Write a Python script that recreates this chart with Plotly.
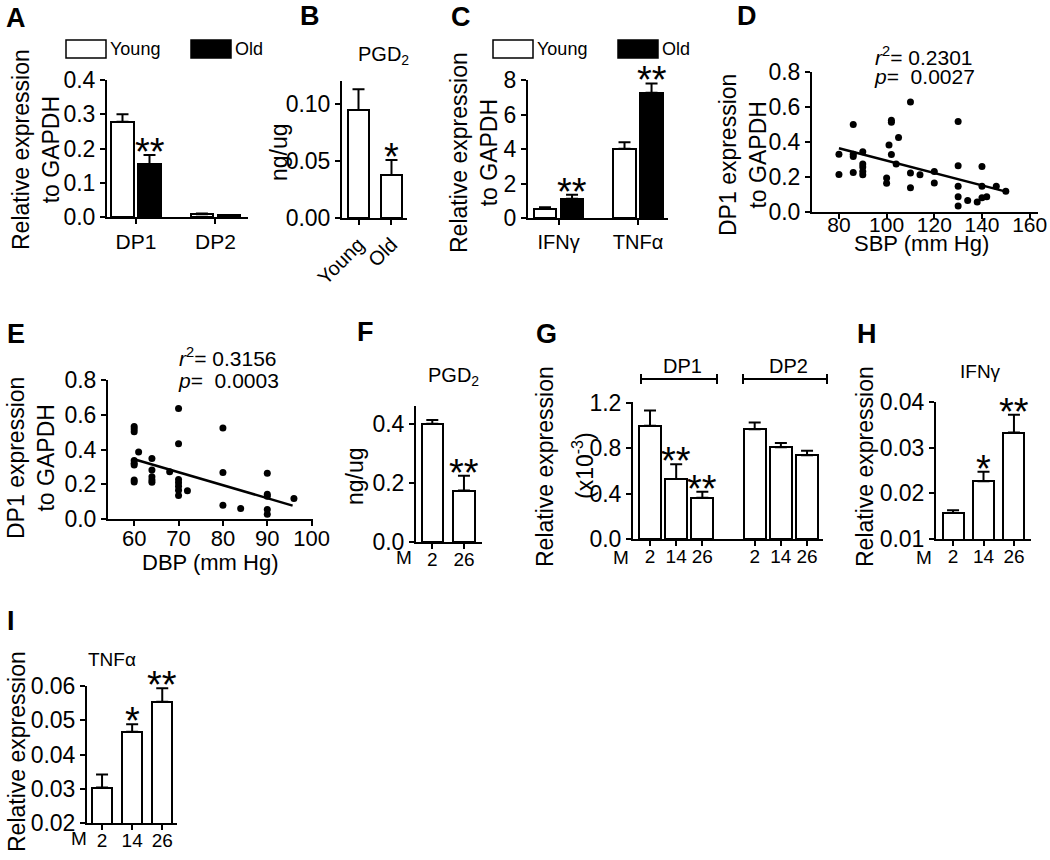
import plotly.graph_objects as go

W, H = 1050, 860
FONT = "Liberation Sans, Arial, sans-serif"

# ---------------- data ----------------
A_genes = ["DP1", "DP2"]
A_young = [0.278, 0.008]
A_young_err = [0.022, 0.002]
A_old = [0.155, 0.005]
A_old_err = [0.026, 0.001]
A_old_sig = ["**", ""]

B_groups = ["Young", "Old"]
B_pgd2 = [0.0947, 0.0377]
B_err = [0.018, 0.013]
B_sig = ["", "*"]

C_genes = ["IFNγ", "TNFα"]
C_young = [0.52, 4.01]
C_young_err = [0.1, 0.38]
C_old = [1.12, 7.26]
C_old_err = [0.23, 0.54]
C_old_sig = ["**", "**"]

D_sbp = [80, 80, 86, 86, 86, 86, 90, 90, 90, 90, 90, 100, 100, 101, 102, 102, 102,
         104, 105, 110, 110, 110, 114, 120, 120, 130, 130, 130, 130, 130, 134, 138,
         140, 140, 140, 142, 146, 150]
D_dp1 = [0.33, 0.215, 0.50, 0.33, 0.317, 0.226, 0.345, 0.275, 0.257, 0.232, 0.213,
         0.194, 0.165, 0.383, 0.525, 0.513, 0.328, 0.274, 0.426, 0.628, 0.223, 0.138,
         0.213, 0.232, 0.166, 0.517, 0.264, 0.147, 0.087, 0.034, 0.066, 0.057, 0.26,
         0.147, 0.081, 0.087, 0.147, 0.119]
D_fit_x = [80, 150.5]
D_fit_y = [0.364, 0.115]
D_r2 = "0.2301"
D_p = "0.0027"

E_dbp = [60, 60, 60, 60, 60, 60, 60, 60, 61, 64, 64, 64, 64, 64, 68, 70, 70, 70, 70,
         70, 70, 70, 72, 80, 80, 80, 84, 90, 90, 90, 90, 90, 96]
E_dp1 = [0.533, 0.518, 0.502, 0.336, 0.321, 0.311, 0.224, 0.213, 0.385, 0.348, 0.282,
         0.243, 0.224, 0.211, 0.272, 0.636, 0.433, 0.228, 0.209, 0.189, 0.166, 0.135,
         0.162, 0.524, 0.267, 0.079, 0.06, 0.263, 0.143, 0.131, 0.054, 0.027, 0.118]
E_fit_x = [60, 95.7]
E_fit_y = [0.344, 0.077]
E_r2 = "0.3156"
E_p = "0.0003"

F_months = ["2", "26"]
F_pgd2 = [0.40, 0.174]
F_err = [0.013, 0.05]
F_sig = ["", "**"]

G_months = ["2", "14", "26"]
G_dp1 = [1.0, 0.53, 0.365]
G_dp1_err = [0.135, 0.13, 0.053]
G_dp1_sig = ["", "**", "**"]
G_dp2 = [0.97, 0.81, 0.74]
G_dp2_err = [0.06, 0.037, 0.04]
G_dp2_sig = ["", "", ""]

H_months = ["2", "14", "26"]
H_ifng = [0.01567, 0.02264, 0.03331]
H_err = [0.0006, 0.0021, 0.0039]
H_sig = ["", "*", "**"]

I_months = ["2", "14", "26"]
I_tnfa = [0.03034, 0.04663, 0.05541]
I_err = [0.0038, 0.0022, 0.0039]
I_sig = ["", "*", "**"]

# ---------------- helpers ----------------
def xp(x):
    return x / W

def yp(y):
    return 1 - y / H

fig = go.Figure()
layout = dict(template="none", width=W, height=H,
              margin=dict(l=0, r=0, t=0, b=0, pad=0, autoexpand=False),
              paper_bgcolor="white", plot_bgcolor="white", showlegend=False,
              font=dict(family=FONT, color="black"), bargap=0)
annotations = []
shapes = []


def ann(x, y, text, size=22, angle=0, xanchor="center", yanchor="middle", bold=False):
    if bold:
        text = "<b>" + text + "</b>"
    annotations.append(dict(x=xp(x), y=yp(y), xref="paper", yref="paper", text=text,
                            showarrow=False, textangle=angle, xanchor=xanchor,
                            yanchor=yanchor, font=dict(size=size, color="black", family=FONT)))


def axis_names(i):
    return ("xaxis" if i == 1 else f"xaxis{i}", "yaxis" if i == 1 else f"yaxis{i}",
            "x" if i == 1 else f"x{i}", "y" if i == 1 else f"y{i}")


def make_axes(i, xpix, ypix, xr, yr, ytickvals, yfmt, xtickvals, xticktext, xfont=20,
              yfont=23, xangle=0, xstand=0):
    xa, ya, xr_, yr_ = axis_names(i)
    common = dict(showline=True, linecolor="black", linewidth=2, ticks="outside",
                  ticklen=5, tickwidth=2, tickcolor="black", showgrid=False,
                  zeroline=False, fixedrange=True, automargin=False)
    layout[xa] = dict(domain=[xp(xpix[0]), xp(xpix[1])], range=list(xr), anchor=yr_,
                      tickvals=xtickvals, ticktext=xticktext, tickangle=xangle,
                      ticklabelstandoff=xstand,
                      tickfont=dict(size=xfont, color="black", family=FONT), **common)
    layout[ya] = dict(domain=[yp(ypix[1]), yp(ypix[0])], range=list(yr), anchor=xr_,
                      tickvals=ytickvals, tickformat=yfmt,
                      tickfont=dict(size=yfont, color="black", family=FONT), **common)
    return xr_, yr_


def add_bars(i, pos, vals, errs, width, color="white", sig=None):
    _, _, xr_, yr_ = axis_names(i)
    fig.add_trace(go.Bar(
        x=pos, y=vals, width=width, xaxis=xr_, yaxis=yr_,
        marker=dict(color=color, line=dict(color="black", width=2)),
        error_y=dict(type="data", array=errs, arrayminus=[0] * len(errs), symmetric=False,
                     color="black", thickness=2, width=6)))
    if sig:
        for p, v, e, s in zip(pos, vals, errs, sig):
            if s:
                annotations.append(dict(x=p, y=v + e, xref=xr_, yref=yr_, text=s,
                                        showarrow=False, yanchor="middle", yshift=3,
                                        font=dict(size=38, color="black", family=FONT)))


# ---------------- Panel A ----------------
make_axes(1, (107, 248), (80, 217), (-0.365, 1.41), (0, 0.4),
          [0, 0.1, 0.2, 0.3, 0.4], ".1f", [0, 1], A_genes, xfont=21)
posA = list(range(len(A_genes)))
add_bars(1, [p - 0.17 for p in posA], A_young, A_young_err, 0.28)
add_bars(1, [p + 0.17 for p in posA], A_old, A_old_err, 0.28, color="black", sig=A_old_sig)

# ---------------- Panel B ----------------
make_axes(2, (342, 407), (81, 218), (-0.5, 1.47), (0, 0.12),
          [0, 0.05, 0.10], ".2f", [0, 1], B_groups, xfont=20, xangle=-45)
add_bars(2, list(range(len(B_groups))), B_pgd2, B_err, 0.64, sig=B_sig)

# ---------------- Panel C ----------------
make_axes(3, (528, 668), (80, 218), (-0.384, 1.377), (0, 8),
          [0, 2, 4, 6, 8], "d", [0, 1], C_genes, xfont=20)
posC = list(range(len(C_genes)))
add_bars(3, [p - 0.17 for p in posC], C_young, C_young_err, 0.28)
add_bars(3, [p + 0.17 for p in posC], C_old, C_old_err, 0.28, color="black", sig=C_old_sig)

# ---------------- Panel D ----------------
make_axes(4, (812, 1038), (72, 212), (68.7, 163.5), (0, 0.8),
          [0, 0.2, 0.4, 0.6, 0.8], ".1f", [80, 100, 120, 140, 160],
          ["80", "100", "120", "140", "160"], xfont=21, xstand=-12)
fig.add_trace(go.Scatter(x=D_sbp, y=D_dp1, mode="markers", xaxis="x4", yaxis="y4",
                         marker=dict(color="black", size=7), cliponaxis=False))
fig.add_trace(go.Scatter(x=D_fit_x, y=D_fit_y, mode="lines", xaxis="x4", yaxis="y4",
                         line=dict(color="black", width=2.5)))

# ---------------- Panel E ----------------
make_axes(5, (108, 313), (380, 519), (54.1, 100.3), (0, 0.8),
          [0, 0.2, 0.4, 0.6, 0.8], ".1f", [60, 70, 80, 90, 100],
          ["60", "70", "80", "90", "100"], xfont=22, xstand=-6)
fig.add_trace(go.Scatter(x=E_dbp, y=E_dp1, mode="markers", xaxis="x5", yaxis="y5",
                         marker=dict(color="black", size=7), cliponaxis=False))
fig.add_trace(go.Scatter(x=E_fit_x, y=E_fit_y, mode="lines", xaxis="x5", yaxis="y5",
                         line=dict(color="black", width=2.5)))

# ---------------- Panel F ----------------
make_axes(6, (416, 482), (406, 542), (-0.515, 1.57), (0, 0.46),
          [0, 0.2, 0.4], ".1f", [0, 1], F_months, xfont=19, xstand=-6)
add_bars(6, list(range(len(F_months))), F_pgd2, F_err, 0.67, sig=F_sig)

# ---------------- Panel G ----------------
make_axes(7, (633, 823), (402, 539), (-0.65, 6.61), (0, 1.21),
          [0, 0.4, 0.8, 1.2], ".1f", [0, 1, 2, 4, 5, 6], G_months + G_months, xfont=19,
          xstand=-6)
add_bars(7, [0, 1, 2], G_dp1, G_dp1_err, 0.84, sig=G_dp1_sig)
add_bars(7, [4, 5, 6], G_dp2, G_dp2_err, 0.84, sig=G_dp2_sig)

# ---------------- Panel H ----------------
make_axes(8, (936, 1031), (402, 539), (-0.56, 2.56), (0.01, 0.04),
          [0.01, 0.02, 0.03, 0.04], ".2f", [0, 1, 2], H_months, xfont=19, xstand=-6)
add_bars(8, [0, 1, 2], H_ifng, H_err, 0.69, sig=H_sig)

# ---------------- Panel I ----------------
make_axes(9, (87, 177), (686, 823), (-0.5, 2.49), (0.02, 0.06),
          [0.02, 0.03, 0.04, 0.05, 0.06], ".2f", [0, 1, 2], I_months, xfont=19, xstand=-6)
add_bars(9, [0, 1, 2], I_tnfa, I_err, 0.66, sig=I_sig)

# ---------------- texts ----------------
for letter, x, y in [("A", 16, 18), ("B", 310, 16), ("C", 461, 17), ("D", 747, 16),
                     ("E", 16, 334), ("F", 365, 332), ("G", 546, 334), ("H", 867, 334),
                     ("I", 11, 621)]:
    ann(x, y, letter, size=27, bold=True)

# y-axis titles
ann(36, 150, "Relative expression<br>to GAPDH", size=23, angle=-90)
ann(279, 152, "ng/ug", size=23, angle=-90)
ann(474, 152, "Relative expression<br>to GAPDH", size=23, angle=-90)
ann(743, 155, "DP1 expression<br>to GAPDH", size=23, angle=-90)
ann(31, 458, "DP1 expression<br>to GAPDH", size=23, angle=-90)
ann(355, 476, "ng/ug", size=23, angle=-90)
ann(545, 467, "Relative expression", size=23, angle=-90)
ann(583, 466, "(x10<sup>-3</sup>)", size=23, angle=-90)
ann(865, 467, "Relative expression", size=23, angle=-90)
ann(17, 752, "Relative expression", size=23, angle=-90)

# x-axis titles
ann(922, 243, "SBP (mm Hg)", size=22)
ann(210, 562, "DBP (mm Hg)", size=22)

# panel titles
ann(383, 55, "PGD<sub>2</sub>", size=20)
ann(453, 377, "PGD<sub>2</sub>", size=20)
ann(980, 372, "IFNγ", size=19)
ann(112, 659, "TNFα", size=19)

# statistics
ann(924, 56, "<i>r</i><sup>2</sup>= " + D_r2, size=21)
ann(924, 77, "<i>p</i>=  " + D_p, size=21)
ann(228, 357, "<i>r</i><sup>2</sup>= " + E_r2, size=21)
ann(228, 380, "<i>p</i>=  " + E_p, size=21)

# "M" (months) labels
ann(404, 557, "M", size=19)
ann(621, 557, "M", size=19)
ann(924, 557, "M", size=19)
ann(79, 838, "M", size=19)

# G group brackets
for x0, x1, label in [(641, 717, "DP1"), (743, 827, "DP2")]:
    shapes.append(dict(type="line", xref="paper", yref="paper", x0=xp(x0), x1=xp(x1),
                       y0=yp(379), y1=yp(379), line=dict(color="black", width=2)))
    for xx in (x0, x1):
        shapes.append(dict(type="line", xref="paper", yref="paper", x0=xp(xx), x1=xp(xx),
                           y0=yp(374), y1=yp(384), line=dict(color="black", width=2)))
    ann((x0 + x1) / 2 + 3, 366, label, size=20)

# legends (A and C)
for bx in (66, 493):
    shapes.append(dict(type="rect", xref="paper", yref="paper", x0=xp(bx), x1=xp(bx + 40),
                       y0=yp(58), y1=yp(40), fillcolor="white",
                       line=dict(color="black", width=1.5)))
    ann(bx + 42, 49, "Young", size=18, xanchor="left")
    shapes.append(dict(type="rect", xref="paper", yref="paper", x0=xp(bx + 125),
                       x1=xp(bx + 165), y0=yp(58), y1=yp(40), fillcolor="black",
                       line=dict(color="black", width=1.5)))
    ann(bx + 167, 49, "Old", size=18, xanchor="left")

layout["annotations"] = annotations
layout["shapes"] = shapes
fig.update_layout(**layout)
fig.write_html("out.html", config={"displayModeBar": False},
               post_script="document.body.style.margin='0';"
                           "document.body.style.overflow='hidden';")
